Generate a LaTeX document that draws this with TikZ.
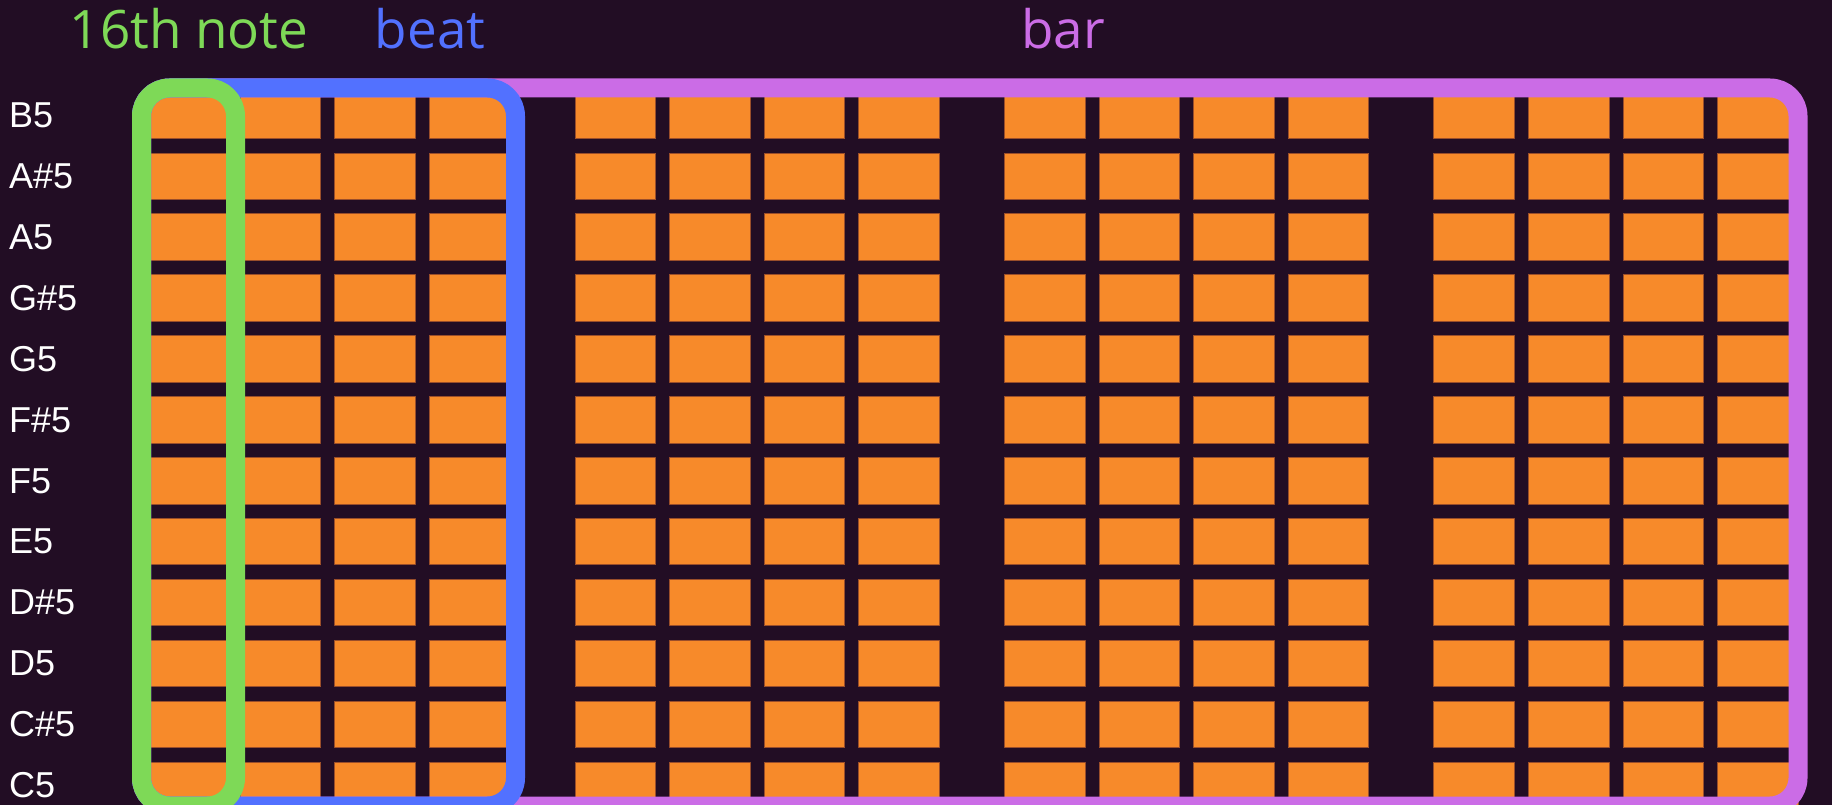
\documentclass[tikz,border=0pt]{standalone}
\usepackage{fontspec}
\setmainfont{Open Sans}
\newfontfamily\notefont{Liberation Sans}
\usepackage{xcolor}
\usetikzlibrary{positioning}
\definecolor{bgdark}{HTML}{220D24}
\definecolor{cellorange}{HTML}{F78A2A}
\definecolor{celledge}{HTML}{9A4E2A}
\definecolor{sixgreen}{HTML}{7ED957}
\definecolor{beatblue}{HTML}{5271FF}
\definecolor{barpurple}{HTML}{CB6CE6}
\tikzset{
  cell/.style={rectangle, fill=cellorange, draw=celledge, line width=1pt,
    minimum width=80.5pt, minimum height=46.5pt, inner sep=0pt},
  notelbl/.style={anchor=west, text=white, inner sep=0pt,
    font=\notefont\fontsize{36}{36}\selectfont},
  spanbox/.style={rounded corners=28pt, line width=19pt},
  spanlbl/.style={anchor=base, inner sep=0pt, font=\fontsize{53}{60}\selectfont},
  every picture/.style={line cap=round, line join=round}
}

\begin{document}
\begin{tikzpicture}[x=1pt, y=-1pt]
    \fill[bgdark] (0,0) rectangle (1832,805);
    \useasboundingbox (0,0) rectangle (1832,805);

    \foreach \name [count=\r from 0] in {B5,A\#5,A5,G\#5,G5,F\#5,F5,E5,D\#5,D5,C\#5,C5}
    {
      \node[notelbl] (lbl-\r) at (9,{115.4+60.9*\r}) {\name};
    }

    \foreach \r in {0,...,11}
      \foreach \g in {0,...,3}
        \foreach \k in {0,...,3}
        {
          \node[cell] (cell-\r-\g\k) at ({186+429.4*\g+94.6*\k},{115.4+60.9*\r}) {};
        }

    \draw[spanbox, barpurple] (141.5,88) rectangle (1798,806);
    \draw[spanbox, beatblue] (141.5,88) rectangle (515.5,806);
    \draw[spanbox, sixgreen] (141.5,88) rectangle (235.5,806);

    \node[spanlbl, text=sixgreen] (note-lbl) at (189,49) {16th note};
    \node[spanlbl, text=beatblue] (beat-lbl) at (430,49) {beat};
    \node[spanlbl, text=barpurple] (bar-lbl) at (1063,49) {bar};
  \end{tikzpicture}
\end{document}
